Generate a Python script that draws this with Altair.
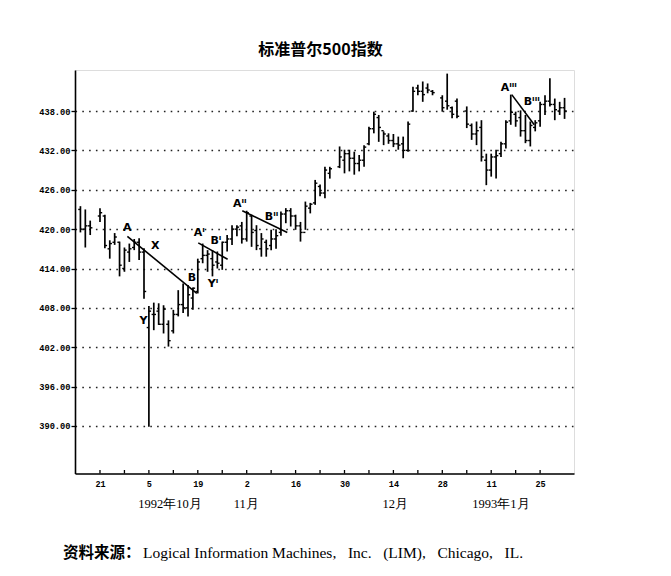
import altair as alt
import pandas as pd
import numpy as np

# ---------------- data ----------------
skip_days = ["1992-09-18", "1992-11-26", "1992-12-25", "1993-01-01"]

highs = [423.5, 423.0, 421.3, 423.2, 422.2, 418.3, 419.4, 418.1, 417.2, 417.8, 418.5,
         418.6, 417.1, 408.3, 408.8, 408.7, 408.4, 406.1, 407.7, 410.7, 411.7, 411.5,
         411.1, 415.5, 417.8, 416.8, 416.8, 416.6, 418.1, 419.1, 420.6, 420.6, 421.1,
         422.8, 422.2, 420.6, 419.4, 418.4, 419.9, 420.0, 422.7, 423.2, 423.2, 422.2,
         421.1, 424.2, 424.0, 427.5, 426.8, 429.5, 429.5, 432.6, 432.1,
         432.1, 431.8, 431.3, 432.8, 435.6, 437.9, 437.4, 434.9, 434.6, 434.5, 434.1,
         434.1, 436.4, 441.7, 442.0, 442.5, 442.2, 441.2, 440.4, 443.7, 438.7, 439.9,
         438.7, 436.1, 436.4, 436.6, 431.5, 431.5, 432.1, 433.3, 436.6, 440.5, 437.9,
         438.1, 437.4, 436.4, 436.6, 439.4, 440.4, 443.0, 439.9, 439.4, 440.0]
lows = [419.5, 417.2, 419.1, 421.1, 417.1, 415.5, 417.6, 412.8, 413.5, 415.0, 416.8,
        415.3, 409.4, 389.9, 404.6, 405.4, 404.1, 402.1, 404.1, 406.7, 407.2, 406.7,
        407.7, 410.2, 414.8, 413.5, 412.8, 414.0, 413.8, 416.6, 417.6, 418.9, 417.8,
        418.1, 417.3, 416.8, 415.8, 415.8, 416.8, 417.0, 419.0, 420.9, 420.4, 419.9,
        418.1, 419.9, 422.4, 423.7, 425.0, 424.7, 427.7, 429.3, 428.5,
        428.8, 428.3, 428.8, 429.5, 432.8, 434.6, 433.3, 432.8, 433.0, 432.5, 432.1,
        430.8, 431.8, 437.9, 440.4, 439.4, 440.7, 440.4, 437.9, 438.2, 436.9, 436.9,
        435.4, 433.6, 432.8, 430.3, 426.7, 428.0, 427.7, 431.0, 432.3, 435.9, 435.6,
        434.1, 433.1, 432.6, 434.9, 435.6, 437.4, 438.7, 436.6, 437.4, 436.8]
opens = [423.0, 420.0, 420.5, 422.0, 422.0, 417.0, 418.0, 418.0, 414.0, 416.5, 417.2,
         418.0, 416.5, 405.0, 407.0, 407.5, 405.5, 405.5, 404.5, 407.0, 408.5, 408.0,
         409.5, 410.5, 415.5, 416.0, 415.5, 415.0, 414.5, 418.0, 418.5, 420.0, 420.5,
         418.5, 422.0, 419.8, 417.0, 418.0, 417.5, 418.5, 419.5, 422.3, 422.8, 422.0,
         420.5, 419.5, 423.2, 424.0, 426.5, 425.5, 428.5, 429.5, 430.5,
         431.5, 430.8, 430.0, 430.5, 433.0, 435.3, 437.0, 435.0, 434.2, 433.5, 433.0,
         433.0, 432.0, 438.0, 441.5, 441.0, 441.5, 441.0, 440.0, 439.5, 438.5, 439.5,
         438.0, 435.8, 434.5, 435.5, 430.5, 429.0, 431.0, 431.5, 433.0, 436.5, 437.5,
         437.0, 435.0, 433.5, 435.5, 436.5, 439.0, 439.5, 439.0, 438.0, 438.5]
closes = [420.0, 420.5, 420.2, 422.5, 417.5, 417.8, 418.8, 414.5, 416.8, 417.0, 418.0,
          416.5, 410.5, 407.5, 407.0, 405.5, 407.8, 403.0, 407.0, 408.5, 408.0, 410.0,
          411.0, 415.0, 416.0, 416.2, 414.5, 414.8, 418.0, 418.5, 420.0, 420.3, 418.5,
          422.5, 419.5, 417.5, 418.5, 417.0, 418.5, 419.0, 422.3, 422.8, 422.0, 420.5,
          419.5, 423.5, 423.8, 427.0, 425.5, 429.0, 429.2, 431.0, 431.5,
          430.8, 430.0, 430.5, 432.5, 435.3, 437.5, 435.5, 434.5, 433.5, 433.0, 432.8,
          432.0, 436.0, 441.0, 441.0, 440.5, 441.2, 440.8, 438.5, 438.8, 437.5, 437.2,
          436.0, 434.5, 435.0, 431.0, 429.0, 431.0, 431.2, 433.0, 436.3, 437.8, 436.5,
          435.0, 433.5, 435.8, 436.2, 439.0, 439.5, 439.0, 438.2, 438.5, 438.0]

tick_dates = ["1992-09-21", "1992-10-05", "1992-10-19", "1992-11-02", "1992-11-16",
              "1992-11-30", "1992-12-14", "1992-12-28", "1993-01-11", "1993-01-25"]
tick_labels = ["21", "5", "19", "2", "16", "30", "14", "28", "11", "25"]
y_ticks = [390, 396, 402, 408, 414, 420, 426, 432, 438]

month_labels = ["1992年10月", "11月", "12月", "1993年1月"]
month_pos = [19.3, 34.9, 65.4, 87.0]

# trend lines (A-B, A'-B', A''-B'', A'''-B''') in weekday units / index points
line_w1 = [10.6, 25.1, 34.1, 89.2]
line_p1 = [418.9, 417.9, 422.8, 440.5]
line_w2 = [24.8, 31.1, 43.3, 93.8]
line_p2 = [410.2, 415.4, 419.5, 435.9]

ann_text = ["A", "X", "B", "Y", "Aᴵ", "Bᴵ", "Yᴵ", "Aᴵᴵ", "Bᴵᴵ", "Aᴵᴵᴵ", "Bᴵᴵᴵ"]
ann_w = [10.6, 16.3, 23.8, 13.9, 25.3, 28.7, 28.1, 33.6, 40.1, 88.6, 93.3]
ann_p = [420.1, 417.4, 412.5, 406.0, 419.4, 418.2, 411.7, 423.8, 421.9, 441.55, 439.4]

source_head = "资料来源："
source_body = ("Logical Information Machines,\u00a0\u00a0 Inc.\u00a0\u00a0 (LIM),\u00a0\u00a0 "
               "Chicago,\u00a0\u00a0 IL.")

# ---------------- tables ----------------
origin = np.datetime64("1992-09-14")
dates = [d for d in pd.bdate_range("1992-09-15", "1993-02-01")
         if d.strftime("%Y-%m-%d") not in skip_days]
dd = np.array([d.strftime("%Y-%m-%d") for d in dates], dtype="datetime64[D]")
wpos = np.busday_count(origin, dd)

bars = pd.DataFrame({"w": wpos, "high": highs, "low": lows,
                     "open": opens, "close": closes})

label_w = [int(np.busday_count(origin, np.datetime64(t))) for t in tick_dates]
mondays = pd.date_range("1992-09-21", "1993-01-25", freq="W-MON")
week_w = pd.DataFrame({"w": [int(np.busday_count(origin, np.datetime64(m.strftime("%Y-%m-%d"))))
                             for m in mondays]})
label_js = "[" + ",".join("'%s'" % t for t in tick_labels) + "]"
label_expr = label_js + "[round((datum.value-%d)/10)]" % label_w[0]

lines = pd.DataFrame({"w1": line_w1, "p1": line_p1, "w2": line_w2, "p2": line_p2})
ann = pd.DataFrame({"w": ann_w, "p": ann_p, "label": ann_text})
months = pd.DataFrame({"w": month_pos, "label": month_labels})

W, H = 499, 403.5
xscale = alt.Scale(domain=[-0.11, 101.93], nice=False, zero=False)
yscale = alt.Scale(domain=[382.76, 444.25], nice=False, zero=False)
MONO = "Liberation Mono"

xaxis = alt.Axis(values=label_w, labelExpr=label_expr, ticks=False, grid=False,
                 domainColor="black", domainWidth=1.6, labelFont=MONO,
                 labelFontWeight="bold", labelFontSize=8.5, labelColor="black",
                 labelPadding=6, title=None)
yaxis = alt.Axis(values=y_ticks, format=".2f", grid=True, gridDash=[1.6, 5.2],
                 gridColor="#222", gridWidth=1.3, tickSize=4, tickColor="black",
                 tickWidth=1.3, domainColor="black", domainWidth=1.6, labelFont=MONO,
                 labelFontWeight="bold", labelFontSize=8.7, labelColor="black",
                 labelPadding=1, title=None)


def X(field):
    return alt.X(field, scale=xscale, axis=xaxis, title=None)


def Y(field):
    return alt.Y(field, scale=yscale, axis=yaxis, title=None)


base = alt.Chart(bars)

hl = base.mark_rule(color="black", strokeWidth=1.7).encode(
    x=X("w:Q"), y=Y("low:Q"), y2="high:Q")

open_tick = base.transform_calculate(wl="datum.w - 0.45").mark_rule(
    color="black", strokeWidth=1.4).encode(
    x=X("wl:Q"), x2="w:Q", y=Y("open:Q"))

close_tick = base.transform_calculate(wr="datum.w + 0.45").mark_rule(
    color="black", strokeWidth=1.4).encode(
    x=X("w:Q"), x2="wr:Q", y=Y("close:Q"))

week_ticks = alt.Chart(week_w).mark_rule(color="black", strokeWidth=1.3).encode(
    x=X("w:Q"), y=alt.value(H), y2=alt.value(H - 3.5))

trend = alt.Chart(lines).mark_rule(color="black", strokeWidth=1.6).encode(
    x=X("w1:Q"), x2="w2:Q", y=Y("p1:Q"), y2="p2:Q")

labels = alt.Chart(ann).mark_text(font="DejaVu Sans", fontWeight="bold", fontSize=11,
                                  color="black", baseline="middle", align="center").encode(
    x=X("w:Q"), y=Y("p:Q"), text="label:N")

month_text = alt.Chart(months).mark_text(font="Liberation Serif", fontSize=12.5,
                                         color="black", baseline="middle").encode(
    x=X("w:Q"), y=alt.value(433.5), text="label:N")

src_head = alt.Chart(pd.DataFrame({"t": [source_head]})).mark_text(
    font="Noto Sans CJK SC", fontWeight="bold", fontSize=15.5, color="black",
    align="left", baseline="middle").encode(
    x=alt.value(-12), y=alt.value(483), text="t:N")

src_body = alt.Chart(pd.DataFrame({"t": [source_body]})).mark_text(
    font="Liberation Serif", fontSize=15.5, color="black",
    align="left", baseline="middle").encode(
    x=alt.value(68), y=alt.value(483), text="t:N")

chart = alt.layer(hl, open_tick, close_tick, week_ticks, trend, labels,
                  month_text, src_head, src_body).properties(
    width=W, height=H,
    padding={"left": 67, "top": 62, "right": 89, "bottom": 94},
    autosize=alt.AutoSizeParams(type="none"),
    title=alt.TitleParams("标准普尔500指数", font="Noto Sans CJK SC", fontSize=16,
                          fontWeight="bold", anchor="middle", offset=12, dx=-4,
                          color="black"),
).configure_view(strokeWidth=0).configure(background="white")

chart.save("out.html", embed_options={"renderer": "svg", "actions": False})
